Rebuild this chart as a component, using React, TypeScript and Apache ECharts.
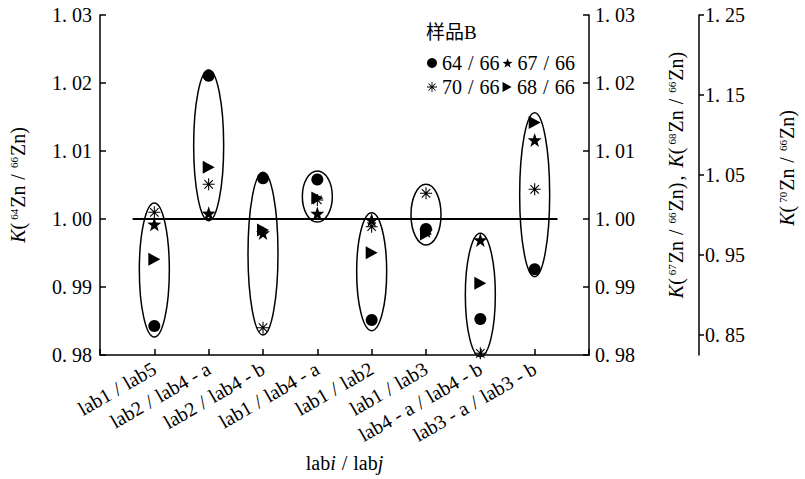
import React, { useEffect, useRef } from 'react';
import * as echarts from 'echarts';

const categories = ['lab1/lab5', 'lab2/lab4-a', 'lab2/lab4-b', 'lab1/lab4-a', 'lab1/lab2', 'lab1/lab3', 'lab4-a/lab4-b', 'lab3-a/lab3-b'];
const k64 = [0.98426, 1.02107, 1.00599, 1.00581, 0.98515, 0.99853, 0.98529, 0.9926];
const k67 = [0.99922, 1.00084, 0.99794, 1.00081, 0.99985, 0.99824, 0.99691, 1.01162];
const k68 = [0.99407, 1.0076, 0.99838, 1.00309, 0.99504, 0.99779, 0.99054, 1.01419];
const k70 = [1.0034, 1.0384, 0.8591, 1.0188, 0.98538, 1.0271, 0.82713, 1.0321];
const ellipseTop = [1.00235, 1.0219, 1.00687, 1.00706, 1.00093, 1.0051, 0.9979, 1.01563];
const ellipseBottom = [0.98265, 0.99975, 0.98294, 0.99956, 0.98357, 0.99618, 0.97975, 0.99151];
const farRightTicks = [0.85, 0.95, 1.05, 1.15, 1.25];
const refLineX = [0.6, 8.42];
const refLineY = 1.0;

const FONT = '"Liberation Serif", "DejaVu Serif", "Noto Sans CJK SC", serif';
const FS = 20;

const STAR = 'path://M0,-10 L2.35,-3.24 L9.51,-3.09 L3.8,1.24 L5.88,8.09 L0,4 L-5.88,8.09 L-3.8,1.24 L-9.51,-3.09 L-2.35,-3.24 Z';
const TRI_RIGHT = 'path://M0,0 L10,5.5 L0,11 Z';
const ASTERISK =
  'path://M-0.9,-10 L0.9,-10 L0.9,10 L-0.9,10 Z ' +
  'M-10,-0.9 L10,-0.9 L10,0.9 L-10,0.9 Z ' +
  'M-6.43,-7.71 L7.71,6.43 L6.43,7.71 L-7.71,-6.43 Z ' +
  'M-7.71,6.43 L6.43,-7.71 L7.71,-6.43 L-6.43,7.71 Z';

const fmt = (v: number) => v.toFixed(2).replace('.', '. ');

const base = { fontSize: FS, fontFamily: FONT, color: '#000' };
const richCommon = {
  t: { ...base },
  i: { ...base, fontStyle: 'italic' },
  s: { ...base, padding: [0, 6, 0, 6] },
  d: { ...base, padding: [0, 5, 0, 5] },
  p: { ...base, padding: [0, 3, 0, 0] },
  c: { ...base, padding: [0, 8, 0, 2] },
  u: { fontSize: 11, fontFamily: FONT, color: '#000', verticalAlign: 'top', padding: [0, 1, 0, 0] },
};

const splitLabel = (c: string) =>
  c
    .split('/')
    .map((part) => part.split('-').map((s) => `{t|${s}}`).join('{d|-}'))
    .join('{s|/}');

const kName = (a: string) => `{i|K}{p|(}{u|${a}}{t|Zn}{s|/}{u|66}{t|Zn)}`;

const axisCommon = {
  type: 'value' as const,
  axisLine: { show: true, lineStyle: { color: '#000', width: 1.5 } },
  splitLine: { show: false },
  axisLabel: { color: '#000', fontSize: FS, fontFamily: FONT, formatter: fmt, margin: 8 },
  nameLocation: 'middle' as const,
  nameRotate: 90,
};

export default function App() {
  const ref = useRef<HTMLDivElement>(null);
  useEffect(() => {
    if (!ref.current) return;
    const chart = echarts.init(ref.current, undefined, { renderer: 'svg' });
    const legendCommon = {
      left: 427,
      padding: 0,
      itemGap: 3,
      itemWidth: 10,
      itemHeight: 10,
      formatter: (n: string) => n.replace('/', '{s|/}'),
      textStyle: { ...base, rich: richCommon },
    };
    const option: any = {
      animation: false,
      backgroundColor: '#fff',
      title: {
        text: '样品B',
        left: 426,
        top: 23,
        padding: 0,
        textStyle: { fontSize: 19, fontWeight: 'normal', fontFamily: FONT, color: '#000' },
      },
      legend: [
        { ...legendCommon, top: 53, data: [{ name: '64/66' }, { name: '67/66' }] },
        { ...legendCommon, top: 77, data: [{ name: '70/66' }, { name: '68/66', icon: TRI_RIGHT }] },
      ],
      grid: { left: 92, right: 198, top: 15, bottom: 124, containLabel: false },
      xAxis: {
        type: 'value',
        min: 0,
        max: 9,
        interval: 1,
        axisLine: { show: true, lineStyle: { color: '#000', width: 1.5 } },
        axisTick: { show: true, inside: true, length: 6, lineStyle: { color: '#000', width: 1.5 } },
        splitLine: { show: false },
        axisLabel: {
          rotate: 30,
          margin: 12,
          ...base,
          rich: richCommon,
          formatter: (v: number) => {
            const c = categories[Math.round(v) - 1];
            return c ? splitLabel(c) : '';
          },
        },
        name: '{t|lab}{i|i}{s|/}{t|lab}{i|j}',
        nameLocation: 'middle',
        nameGap: 98,
        nameTextStyle: { ...base, rich: richCommon },
      },
      yAxis: [
        {
          ...axisCommon,
          position: 'left',
          min: 0.98,
          max: 1.03,
          interval: 0.01,
          axisTick: { show: true, inside: true, length: 6, lineStyle: { color: '#000', width: 1.5 } },
          name: kName('64'),
          nameGap: 72,
          nameTextStyle: { ...base, rich: richCommon },
        },
        {
          ...axisCommon,
          position: 'right',
          min: 0.98,
          max: 1.03,
          interval: 0.01,
          axisTick: { show: true, inside: true, length: 6, lineStyle: { color: '#000', width: 1.5 } },
          axisLabel: { ...axisCommon.axisLabel, margin: 6 },
          name: kName('67') + '{c|,}' + kName('68'),
          nameGap: 77,
          nameTextStyle: { ...base, rich: richCommon, padding: [0, 0, 0, 20] },
        },
        {
          ...axisCommon,
          position: 'right',
          offset: 110,
          min: 0.825,
          max: 1.25,
          axisTick: { show: true, inside: false, length: 5, customValues: farRightTicks, lineStyle: { color: '#000', width: 1.5 } },
          axisLabel: { ...axisCommon.axisLabel, margin: 6, customValues: farRightTicks },
          name: kName('70'),
          nameGap: 78,
          nameTextStyle: { ...base, rich: richCommon, padding: [0, 0, 0, 34] },
        },
      ],
      series: [
        {
          type: 'line',
          name: 'ref',
          xAxisIndex: 0,
          yAxisIndex: 0,
          data: refLineX.map((x) => [x, refLineY]),
          symbol: 'none',
          lineStyle: { color: '#000', width: 2 },
          silent: true,
        },
        {
          type: 'custom',
          name: 'groups',
          xAxisIndex: 0,
          yAxisIndex: 0,
          data: categories.map((_, i) => [i + 1, ellipseTop[i], ellipseBottom[i]]),
          encode: { x: 0, y: [1, 2] },
          clip: false,
          renderItem: (params: any, api: any) => {
            const top = api.coord([api.value(0), api.value(1)]);
            const bot = api.coord([api.value(0), api.value(2)]);
            return {
              type: 'ellipse',
              shape: { cx: top[0], cy: (top[1] + bot[1]) / 2, rx: 15, ry: (bot[1] - top[1]) / 2 },
              style: { fill: 'none', stroke: '#000', lineWidth: 1.5 },
            };
          },
        },
        {
          type: 'scatter',
          name: '70/66',
          yAxisIndex: 2,
          symbol: ASTERISK,
          symbolSize: 12,
          itemStyle: { color: '#000', opacity: 1 },
          data: k70.map((v, i) => [i + 1, v]),
        },
        {
          type: 'scatter',
          name: '68/66',
          yAxisIndex: 1,
          symbol: TRI_RIGHT,
          symbolSize: [12, 13],
          itemStyle: { color: '#000', opacity: 1 },
          data: k68.map((v, i) => [i + 1, v]),
        },
        {
          type: 'scatter',
          name: '67/66',
          yAxisIndex: 1,
          symbol: STAR,
          symbolSize: 14,
          itemStyle: { color: '#000', opacity: 1 },
          data: k67.map((v, i) => [i + 1, v]),
        },
        {
          type: 'scatter',
          name: '64/66',
          yAxisIndex: 0,
          symbol: 'circle',
          symbolSize: 12,
          itemStyle: { color: '#000', opacity: 1 },
          data: k64.map((v, i) => [i + 1, v]),
        },
      ],
    };
    chart.setOption(option);
    return () => chart.dispose();
  }, []);
  return <div ref={ref} style={{ position: 'absolute', left: 0, top: 0, width: 805, height: 479 }} />;
}
